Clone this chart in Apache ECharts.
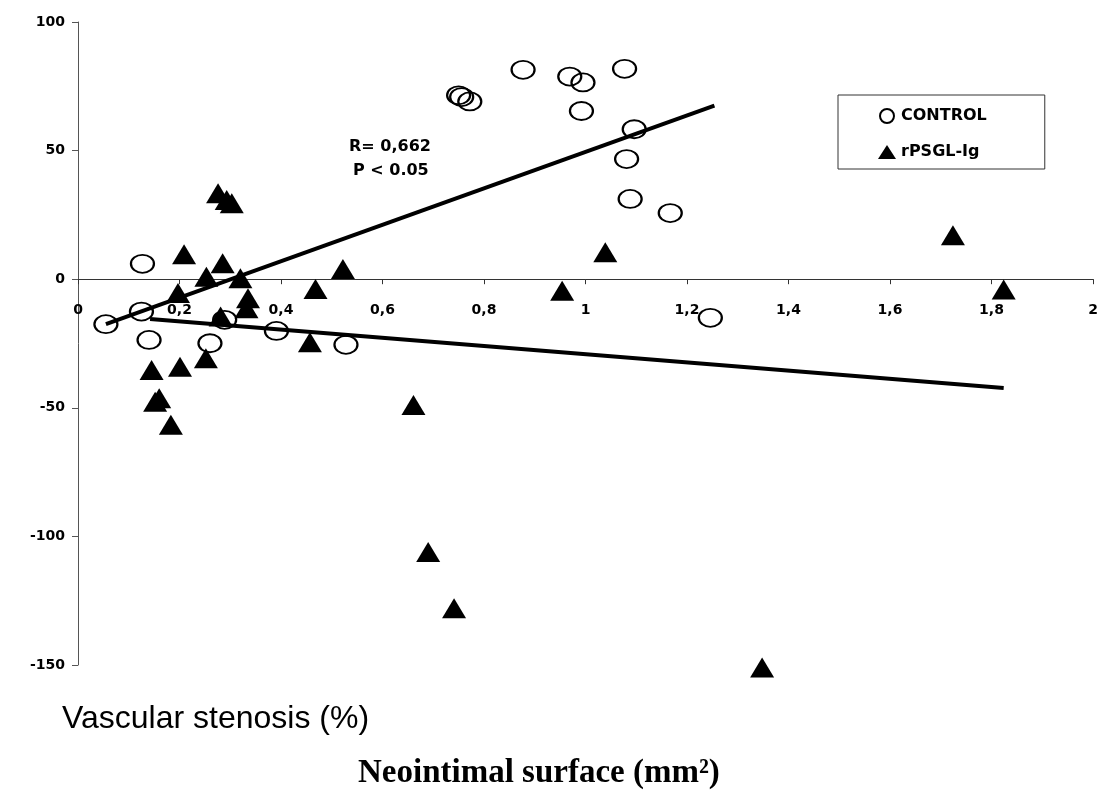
<!DOCTYPE html>
<html>
<head>
<meta charset="utf-8">
<script src="https://cdn.jsdelivr.net/npm/echarts@6/dist/echarts.min.js"></script>
<style>
html,body{margin:0;padding:0;background:#fff;}
#chart{width:1103px;height:796px;}
</style>
</head>
<body>
<div id="chart"></div>
<script>
// ---- data ----
var controlSurface  = [0.055,0.125,0.127,0.140,0.260,0.289,0.391,0.528,0.750,0.756,0.772,0.877,0.969,0.995,0.992,1.077,1.096,1.081,1.088,1.167,1.246];
var controlStenosis = [-17.5,-12.6,6.0,-23.6,-24.9,-15.8,-20.1,-25.5,71.5,70.8,69.1,81.4,78.8,76.5,65.4,81.8,58.3,46.7,31.2,25.7,-15.0];

var rpsglSurface  = [0.276,0.293,0.303,0.209,0.285,0.253,0.320,0.197,0.335,0.332,0.281,0.145,0.201,0.252,0.152,0.160,0.183,0.522,0.468,0.954,0.457,0.661,0.690,0.741,1.039,1.724,1.824,1.348];
var rpsglStenosis = [33.4,30.8,29.5,9.7,6.2,1.0,0.4,-5.4,-7.4,-11.3,-14.5,-35.3,-34.0,-30.7,-47.6,-46.3,-56.6,4.0,-3.8,-4.5,-24.5,-48.9,-106.1,-127.9,10.5,17.1,-4.0,-151.0];

// regression lines (end points)
var controlTrendX = [0.055, 1.254];
var controlTrendY = [-17.5, 67.5];
var rpsglTrendX   = [0.142, 1.824];
var rpsglTrendY   = [-15.5, -42.3];

var xTicks = [0,0.2,0.4,0.6,0.8,1,1.2,1.4,1.6,1.8,2];
var yTicks = [-150,-100,-50,0,50,100];

var seriesNames = ['CONTROL','rPSGL-Ig'];
var statsText = ['R= 0,662','P < 0.05'];
var yTitle = 'Vascular stenosis (%)';
var xTitle = 'Neointimal surface (mm\u00B2)';

function zip(a,b){ return a.map(function(v,i){ return [v,b[i]]; }); }

var chart = echarts.init(document.getElementById('chart'));
var tickFont = '"DejaVu Sans", Arial, sans-serif';

var gridTop = 22, gridBottom = 131, chartH = 796;
var yMin = yTicks[0], yMax = yTicks[yTicks.length-1];
var plotH = chartH - gridTop - gridBottom;
// move the x axis (line, ticks, labels) up to the y = 0 level
var zeroOffset = -(plotH * (0 - yMin) / (yMax - yMin));

chart.setOption({
  backgroundColor:'#fff',
  animation:false,
  grid:{left:78,right:10,top:gridTop,bottom:gridBottom,containLabel:false},
  xAxis:{
    type:'value', min:xTicks[0], max:xTicks[xTicks.length-1], interval:0.2,
    position:'bottom', offset:zeroOffset,
    axisLine:{show:true,onZero:false,lineStyle:{color:'#333',width:1}},
    axisTick:{show:true,inside:false,length:5,lineStyle:{color:'#333'}},
    splitLine:{show:false},
    axisLabel:{margin:24,color:'#000',fontFamily:tickFont,fontWeight:'bold',fontSize:14,
      formatter:function(v){ return String(Math.round(v*10)/10).replace('.',','); }}
  },
  yAxis:{
    type:'value', min:yMin, max:yMax, interval:50,
    axisLine:{show:true,onZero:false,lineStyle:{color:'#555',width:1}},
    axisTick:{show:true,inside:false,length:6,lineStyle:{color:'#555'}},
    splitLine:{show:false},
    axisLabel:{margin:13,color:'#000',fontFamily:tickFont,fontWeight:'bold',fontSize:14}
  },
  legend:{
    orient:'vertical', left:838, top:95,
    padding:[13,58,9,40],
    itemWidth:18, itemHeight:14, itemGap:20,
    borderColor:'#333', borderWidth:1, backgroundColor:'#fff',
    textStyle:{color:'#000',fontFamily:tickFont,fontWeight:'bold',fontSize:16},
    data:[
      {name:seriesNames[0],icon:'circle',itemStyle:{color:'#fff',borderColor:'#000',borderWidth:2,opacity:1}},
      {name:seriesNames[1],icon:'triangle',itemStyle:{color:'#000',opacity:1}}
    ]
  },
  graphic:[
    {type:'text',left:349,top:139,style:{text:statsText[0],fill:'#000',font:'bold 16px "DejaVu Sans", Arial, sans-serif'}},
    {type:'text',left:353,top:163,style:{text:statsText[1],fill:'#000',font:'bold 16px "DejaVu Sans", Arial, sans-serif'}},
    {type:'text',left:62,top:703,style:{text:yTitle,fill:'#000',font:'32px "Liberation Sans", Arial, sans-serif'}},
    {type:'text',left:358,top:757,style:{text:xTitle,fill:'#000',font:'bold 33px "Liberation Serif", "Times New Roman", serif'}}
  ],
  series:[
    {
      name:seriesNames[0], type:'scatter', z:3, clip:false,
      symbol:'circle', symbolSize:[23,18],
      itemStyle:{color:'rgba(255,255,255,0)',borderColor:'#000',borderWidth:2,opacity:1},
      data:zip(controlSurface,controlStenosis)
    },
    {
      name:seriesNames[1], type:'scatter', z:4, clip:false,
      symbol:'triangle', symbolSize:[24,20],
      itemStyle:{color:'#000',opacity:1},
      data:zip(rpsglSurface,rpsglStenosis)
    },
    {
      name:'controlTrend', type:'line', z:5, silent:true, showSymbol:false, symbol:'none',
      lineStyle:{color:'#000',width:4},
      data:zip(controlTrendX,controlTrendY)
    },
    {
      name:'rpsglTrend', type:'line', z:5, silent:true, showSymbol:false, symbol:'none',
      lineStyle:{color:'#000',width:4},
      data:zip(rpsglTrendX,rpsglTrendY)
    }
  ]
});
</script>
</body>
</html>
